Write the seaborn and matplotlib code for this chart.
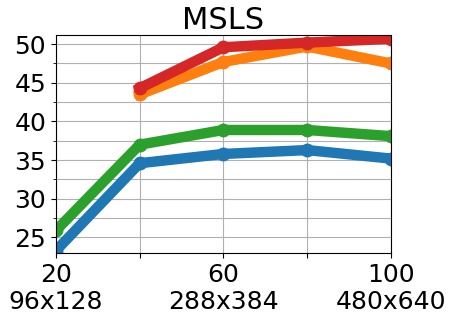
import matplotlib
matplotlib.use("Agg")
import matplotlib.pyplot as plt
import seaborn as sns
import pandas as pd
from matplotlib.ticker import MultipleLocator

x_vals = [20, 40, 60, 80, 100]
x_labels = ["20\n96x128", "", "60\n288x384", "", "100\n480x640"]
blue = [23.3, 34.6, 35.8, 36.3, 35.2]
green = [25.9, 37.0, 38.9, 38.9, 38.1]
orange_x = [40, 60, 80, 100]
orange = [43.5, 47.7, 49.7, 47.5]
red_x = [40, 60, 80, 100]
red = [44.3, 49.6, 50.2, 50.7]

series = [
    ("blue", x_vals, blue, "#1f77b4"),
    ("orange", orange_x, orange, "#ff7f0e"),
    ("green", x_vals, green, "#2ca02c"),
    ("red", red_x, red, "#d62728"),
]

fig, ax = plt.subplots(figsize=(4.55, 3.23), dpi=100)
for name, xs, ys, col in series:
    df = pd.DataFrame({"x": xs, "y": ys})
    sns.lineplot(data=df, x="x", y="y", ax=ax, color=col, linewidth=7.5,
                 marker="o", markersize=10, markeredgewidth=0)

ax.set_xlim(20, 100)
ax.set_ylim(23, 51.2)
ax.set_xticks(x_vals)
ax.set_xticklabels(x_labels, fontsize=18)
ax.yaxis.set_major_locator(MultipleLocator(5))
ax.yaxis.set_minor_locator(MultipleLocator(2.5))
ax.tick_params(axis="y", labelsize=18)
ax.grid(True, which="both", color="#b0b0b0", linewidth=0.8)
ax.set_axisbelow(True)
ax.set_xlabel("")
ax.set_ylabel("")
ax.set_title("MSLS", fontsize=22, pad=3)
fig.subplots_adjust(left=0.123, right=0.859, top=0.892, bottom=0.217)
fig.savefig("out.png", dpi=100)
